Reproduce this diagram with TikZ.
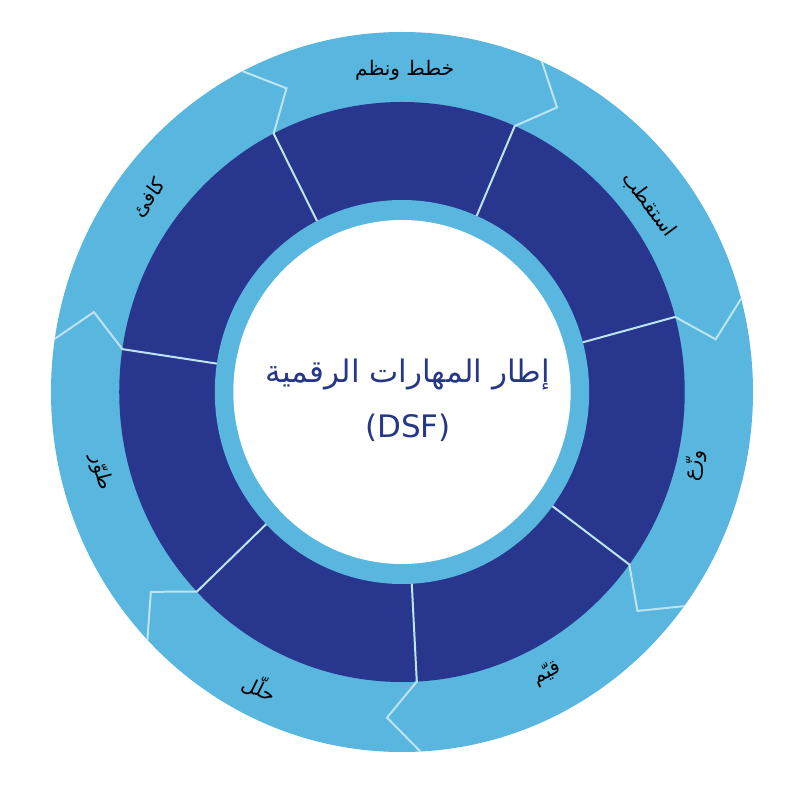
\documentclass[tikz,border=0pt]{standalone}
\usepackage{fontspec}
\newfontfamily\arabicfont[Script=Arabic]{DejaVu Sans}
\TeXXeTstate=1
\definecolor{ringlight}{RGB}{88,182,223}
\definecolor{ringdark}{RGB}{40,54,142}
\definecolor{paleline}{RGB}{190,228,242}
\definecolor{centertext}{RGB}{38,55,135}
\begin{document}
\begin{tikzpicture}[x=0.975pt,y=1pt,
  sepline/.style={draw=paleline, line width=2pt, line join=miter},
  lbl/.style={font=\arabicfont\fontsize{20}{24}\selectfont, text=black, inner sep=0pt},
  ctr/.style={font=\arabicfont\fontsize{31}{36}\selectfont, text=centertext, inner sep=0pt}]
\useasboundingbox (-412.3,-400) rectangle (400,392);
\fill[ringlight] (0,0) circle [x radius=360, y radius=360];
\fill[ringdark] (0,0) circle [x radius=290, y radius=290];
\fill[ringlight] (0,0) circle [x radius=192, y radius=192];
\fill[white] (0,0) circle [x radius=173, y radius=172];
\foreach \a in {117,66.5,15,-36.5,-87,-136.5,-188.5} {
  \draw[sepline] (\a:192) -- (\a:290) -- ({\a-5.7}:326) -- (\a:360);
}
\node[lbl, rotate=0] (l1) at (89.5:322) {\beginR خطط ونظم\endR};
\node[lbl, rotate=-53.5] (l2) at (36.5:315) {\beginR استقطب\endR};
\node[lbl, rotate=76.3] (l3) at (-13.7:309) {\beginR وزّع\endR};
\node[lbl, rotate=27.8] (l4) at (-62.2:318) {\beginR قيّم\endR};
\node[lbl, rotate=-26.2] (l5) at (243.8:329) {\beginR حلّل\endR};
\node[lbl, rotate=-75.5] (l6) at (194.5:319) {\beginR طوّر\endR};
\node[lbl, rotate=53.2] (l7) at (143.2:324) {\beginR كافئ\endR};
\node[ctr] (c1) at (6,17) {\beginR إطار المهارات الرقمية\endR};
\node[ctr] (c2) at (6,-36) {(DSF)};
\end{tikzpicture}
\end{document}
